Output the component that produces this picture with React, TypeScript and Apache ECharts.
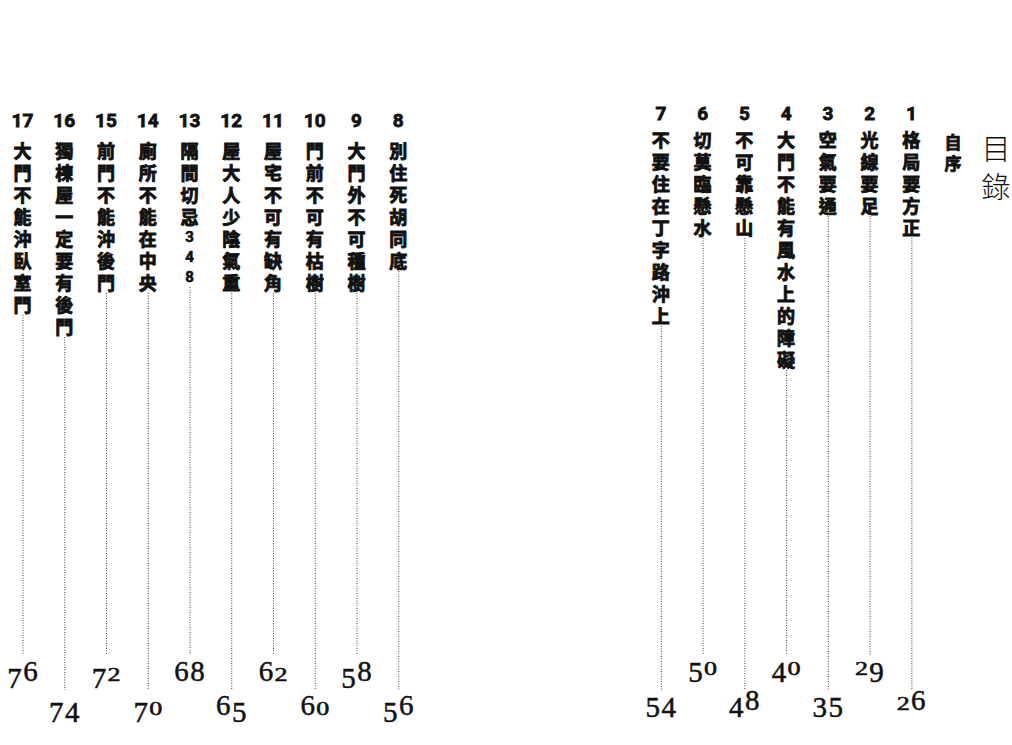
import { useEffect, useRef } from 'react'
import * as echarts from 'echarts'

// 目錄資料（由左至右，與頁面排列相同）
const chapterNos = [17, 16, 15, 14, 13, 12, 11, 10, 9, 8, 7, 6, 5, 4, 3, 2, 1]
const chapterTitles = [
  '大門不能沖臥室門',
  '獨棟屋一定要有後門',
  '前門不能沖後門',
  '廁所不能在中央',
  '隔間切忌348',
  '屋大人少陰氣重',
  '屋宅不可有缺角',
  '門前不可有枯樹',
  '大門外不可種樹',
  '別住死胡同底',
  '不要住在丁字路沖上',
  '切莫臨懸水',
  '不可靠懸山',
  '大門不能有風水上的障礙',
  '空氣要通',
  '光線要足',
  '格局要方正',
]
const pageNos = [76, 74, 72, 70, 68, 65, 62, 60, 58, 56, 54, 50, 48, 40, 35, 29, 26]
const frontTitles = ['自序', '目錄']

// 版面：x 軸以「欄」為單位，y 軸以像素為單位
const COL_W = 41.75
const X_MIN = -22.5 / COL_W
const X_MAX = X_MIN + 1012 / COL_W
const RIGHT_SLOT = 15.29 // 右頁第一欄（第 7 章）

const LEFT = { num: 120, title: 150, base: [681, 715] }
const RIGHT = { num: 113.5, title: 139, base: [675, 710] }
const LINE_END = [655, 690]
const STEP = 22
const DIGIT_STEP = 20
const INK = '#111'
const CJK = '"Noto Sans CJK TC", "Noto Sans CJK SC", sans-serif'

function slotOf(ch: number) {
  return ch >= 8 ? 17 - ch : RIGHT_SLOT + 7 - ch
}

const isDigit = (c: string) => /[0-9]/.test(c)

// 仿舊式數字：0 1 2 為小寫高度，3 4 5 7 9 下伸
function pageDigits(text: string, cx: number, baseline: number) {
  const small = (d: string) => '012'.includes(d)
  const adv = (d: string) => (small(d) ? 14 : 16)
  const total = text.split('').reduce((s, d) => s + adv(d), 0)
  let x = cx - total / 2
  const out: any[] = []
  for (const d of text) {
    const fs = small(d) ? 18 : 29
    const b = baseline + ('34579'.includes(d) ? 7 : 0)
    out.push({
      type: 'text',
      x: x + adv(d) / 2,
      y: b - 0.338 * fs,
      scaleX: small(d) ? 1.45 : 1,
      style: {
        text: d,
        fontSize: fs,
        fontFamily: '"Liberation Serif", serif',
        fill: INK,
        stroke: INK,
        lineWidth: 0.5,
        align: 'center',
        verticalAlign: 'middle',
      },
    })
    x += adv(d)
  }
  return out
}

function renderChapter(params: any, api: any) {
  const i = params.dataIndex
  const ch = chapterNos[i]
  const page = ch >= 8 ? LEFT : RIGHT
  const slot = api.value(0)
  const [x] = api.coord([slot, 0])
  const y = (v: number) => api.coord([slot, v])[1]
  const children: any[] = []

  children.push({
    type: 'text',
    x,
    y: y(page.num),
    style: {
      text: String(ch),
      fontSize: 19,
      fontWeight: 'bold',
      fontFamily: 'Roboto, sans-serif',
      fill: INK,
      stroke: INK,
      lineWidth: 0.8,
      align: 'center',
      verticalAlign: 'middle',
    },
  })

  // 直排標題：一字一行
  const chars = chapterTitles[i].split('')
  const textH = chars.reduce((s, c) => s + (isDigit(c) ? DIGIT_STEP : STEP), 0)
  const top = page.title - STEP / 2
  children.push({
    type: 'text',
    x,
    y: y(top),
    style: {
      text: chars.map((c) => (isDigit(c) ? `{d|${c}}` : `{c|${c}}`)).join('\n'),
      align: 'center',
      verticalAlign: 'top',
      fill: INK,
      rich: {
        c: {
          fontSize: 18,
          fontWeight: 'bold',
          fontFamily: CJK,
          lineHeight: STEP,
          fill: INK,
          stroke: INK,
          lineWidth: 0.9,
        },
        d: {
          fontSize: 15,
          fontWeight: 'bold',
          fontFamily: 'Roboto, sans-serif',
          lineHeight: DIGIT_STEP,
          fill: INK,
          stroke: INK,
          lineWidth: 0.6,
        },
      },
    },
  })
  const lastY = top + textH - STEP / 2

  // 交錯排列：左頁偶數欄在上，右頁偶數欄在下
  const s = ch >= 8 ? 17 - ch : 7 - ch
  const row = ch >= 8 ? s % 2 : 1 - (s % 2)

  children.push({
    type: 'line',
    shape: { x1: x + 0.5, y1: y(lastY + 11), x2: x + 0.5, y2: y(LINE_END[row]) },
    style: { stroke: '#444', lineWidth: 1, lineDash: [1, 1.5] },
  })

  children.push(...pageDigits(String(pageNos[i]), x, y(page.base[row])))

  return { type: 'group', children }
}

function renderFront(params: any, api: any) {
  const i = params.dataIndex
  const slot = api.value(0)
  const [x] = api.coord([slot, 0])
  const isHeading = i === 1
  const step = isHeading ? 38 : 21
  const top = (isHeading ? 147 : 141) - step / 2
  return {
    type: 'text',
    x,
    y: api.coord([slot, top])[1],
    style: {
      text: frontTitles[i].split('').join('\n'),
      fontSize: isHeading ? 29 : 17,
      lineHeight: step,
      fontWeight: isHeading ? 300 : 'bold',
      fontFamily: CJK,
      fill: INK,
      stroke: INK,
      lineWidth: isHeading ? 0 : 0.8,
      align: 'center',
      verticalAlign: 'top',
    },
  }
}

export default function App() {
  const elRef = useRef<HTMLDivElement>(null)

  useEffect(() => {
    if (!elRef.current) return
    const chart = echarts.init(elRef.current, undefined, { renderer: 'svg' })
    chart.setOption({
      animation: false,
      backgroundColor: '#fff',
      grid: { left: 0, right: 0, top: 0, bottom: 0 },
      xAxis: { type: 'value', min: X_MIN, max: X_MAX, show: false },
      yAxis: { type: 'value', min: 0, max: 745, inverse: true, show: false },
      series: [
        {
          type: 'custom',
          silent: true,
          renderItem: renderChapter,
          data: chapterNos.map((ch, i) => [slotOf(ch), i]),
        },
        {
          type: 'custom',
          silent: true,
          renderItem: renderFront,
          data: [
            [RIGHT_SLOT + 7, 0],
            [RIGHT_SLOT + 8.03, 1],
          ],
        },
      ],
    })
    return () => chart.dispose()
  }, [])

  return (
    <div
      ref={elRef}
      style={{ position: 'fixed', left: 0, top: 0, width: 1012, height: 745, background: '#fff' }}
    />
  )
}
